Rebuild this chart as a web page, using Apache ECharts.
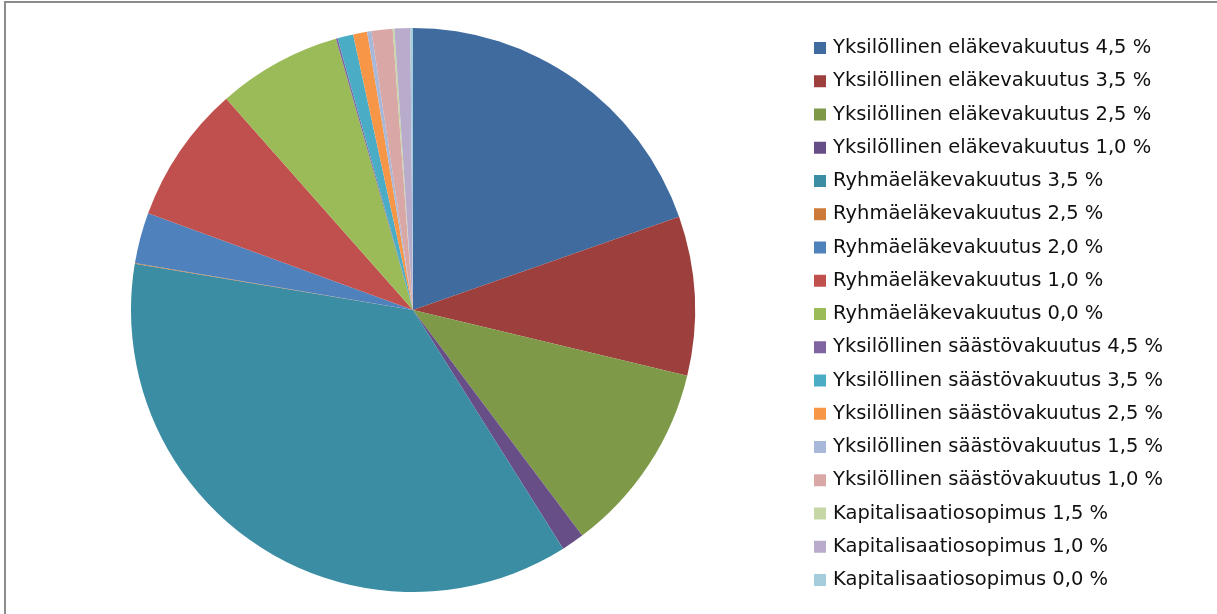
<!DOCTYPE html>
<html>
<head>
<meta charset="utf-8">
<script src="https://cdn.jsdelivr.net/npm/echarts@6/dist/echarts.min.js"></script>
<style>
  html, body { margin: 0; padding: 0; background: #fff; }
  #chart { width: 1217px; height: 614px; }
</style>
</head>
<body>
<div id="chart"></div>
<script>
// osuudet (%) luettu kuvasta, myötäpäivään klo 12:sta
const categories = [
  'Yksilöllinen eläkevakuutus 4,5 %',
  'Yksilöllinen eläkevakuutus 3,5 %',
  'Yksilöllinen eläkevakuutus 2,5 %',
  'Yksilöllinen eläkevakuutus 1,0 %',
  'Ryhmäeläkevakuutus 3,5 %',
  'Ryhmäeläkevakuutus 2,5 %',
  'Ryhmäeläkevakuutus 2,0 %',
  'Ryhmäeläkevakuutus 1,0 %',
  'Ryhmäeläkevakuutus 0,0 %',
  'Yksilöllinen säästövakuutus 4,5 %',
  'Yksilöllinen säästövakuutus 3,5 %',
  'Yksilöllinen säästövakuutus 2,5 %',
  'Yksilöllinen säästövakuutus 1,5 %',
  'Yksilöllinen säästövakuutus 1,0 %',
  'Kapitalisaatiosopimus 1,5 %',
  'Kapitalisaatiosopimus 1,0 %',
  'Kapitalisaatiosopimus 0,0 %'
]
const values = [19.6, 9.1, 11.0, 1.3, 36.5, 0.05, 2.9, 7.9, 7.1, 0.1, 0.9, 0.8, 0.25, 1.2, 0.1, 0.9, 0.15]
const colors = [
  '#3f6b9f', '#9d403d', '#7e9a48', '#674e87', '#3b8da3', '#cb7a37',
  '#4f81bd', '#c0504d', '#9bbb59', '#8064a2', '#4bacc6', '#f79646',
  '#a7b8d8', '#d9a7a6', '#c5d7a5', '#b8abcb', '#a6cddc'
]

const chart = echarts.init(document.getElementById('chart'))
chart.setOption({
  animation: false,
  color: colors,
  graphic: [{
    type: 'rect',
    silent: true,
    shape: { x: 5, y: 2, width: 1240, height: 640 },
    style: { fill: 'none', stroke: '#8c8c8c', lineWidth: 2 }
  }],
  legend: {
    orient: 'vertical',
    left: 809,
    top: 33,
    icon: 'rect',
    itemWidth: 12,
    itemHeight: 12,
    itemGap: 13.25,
    data: categories,
    textStyle: {
      fontFamily: 'DejaVu Sans',
      fontSize: 19.5,
      lineHeight: 20,
      color: '#111',
      padding: [0, 0, 0, 2]
    }
  },
  series: [{
    type: 'pie',
    center: [413, 310],
    radius: [0, 282],
    startAngle: 90,
    clockwise: true,
    label: { show: false },
    labelLine: { show: false },
    itemStyle: { borderWidth: 0 },
    emphasis: { disabled: true },
    data: categories.map((name, i) => ({ name, value: values[i] }))
  }]
})
</script>
</body>
</html>
